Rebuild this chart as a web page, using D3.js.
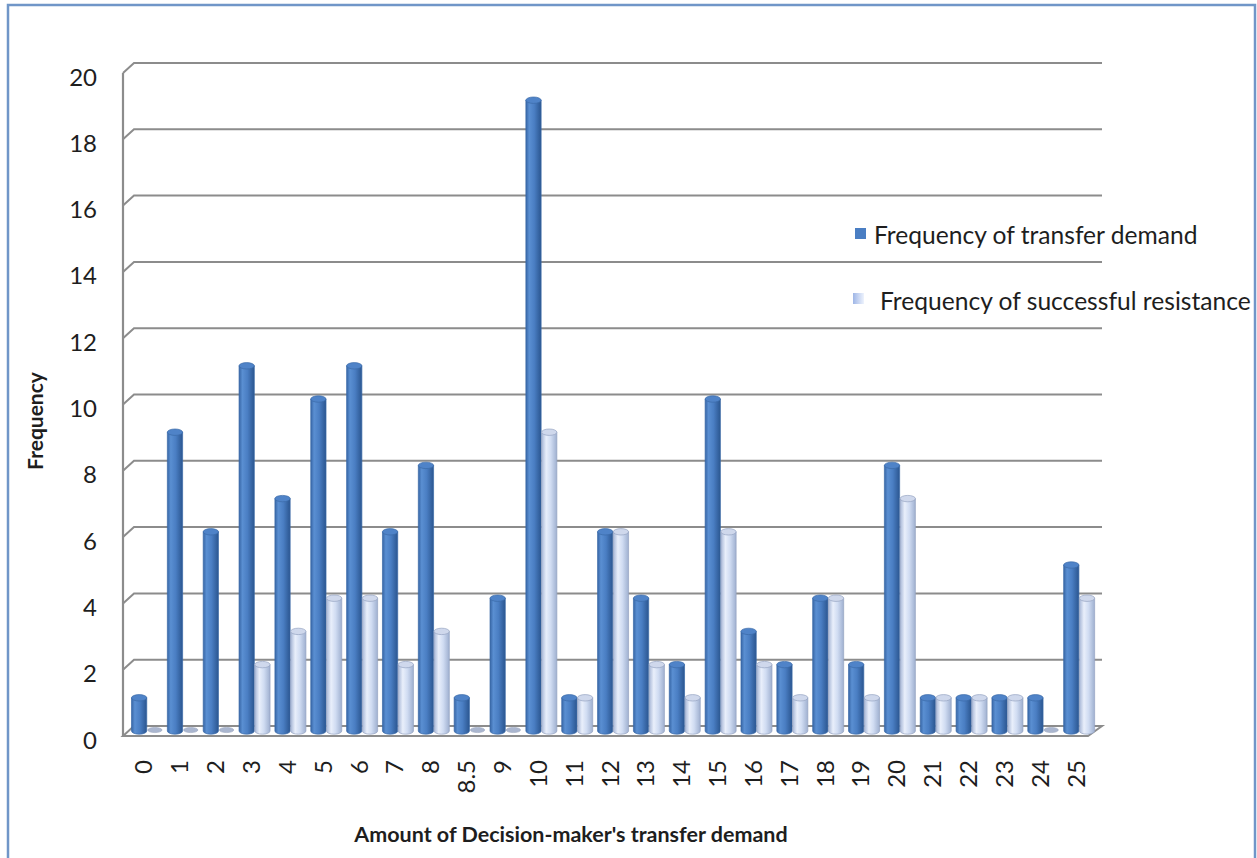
<!DOCTYPE html>
<html><head><meta charset="utf-8">
<script src="https://cdn.jsdelivr.net/npm/d3@7"></script>
<style>body{margin:0;background:#fff;}svg{display:block;}text{font-family:Lato,"Liberation Sans",sans-serif;fill:#1e1e1e;}</style>
</head><body>
<svg id="c" width="1257" height="858"></svg>
<script>
const categories = ["0","1","2","3","4","5","6","7","8","8.5","9","10","11","12","13","14","15","16","17","18","19","20","21","22","23","24","25"];
const demandValues = [1,9,6,11,7,10,11,6,8,1,4,19,1,6,4,2,10,3,2,4,2,8,1,1,1,1,5];
const resistValues = [0,0,0,2,3,4,4,2,3,0,0,9,1,6,2,1,6,2,1,4,1,7,1,1,1,0,4];
const seriesNames = ["Frequency of transfer demand","Frequency of successful resistance"];
const yTicks = [0,2,4,6,8,10,12,14,16,18,20];
const xTitle = "Amount of Decision-maker's transfer demand";
const yTitle = "Frequency";

const svg = d3.select("#c");
const defs = svg.append("defs");
function grad(id, stops){
  const g = defs.append("linearGradient").attr("id", id).attr("x1","0%").attr("x2","100%").attr("y1","0%").attr("y2","0%");
  stops.forEach(s => g.append("stop").attr("offset", s[0]).attr("stop-color", s[1]));
}
grad("gDark", [[0,"#3766a6"],[0.22,"#5a8fd2"],[0.55,"#4a7ec3"],[1,"#2b5690"]]);
grad("gLight", [[0,"#a6b6d6"],[0.3,"#e9effb"],[0.6,"#d0dcf2"],[1,"#9fb0d0"]]);
grad("gLegL", [[0,"#9fb6e6"],[1,"#eef3fd"]]);

// frame
svg.append("rect").attr("x",8).attr("y",5).attr("width",1247).attr("height",870)
  .attr("fill","#fff").attr("stroke","#7096c8").attr("stroke-width",2.5);

const DX = 11, DY = -10;
const yGrid = d3.scaleLinear().domain([0,20]).range([726,63]);
const yBar = d3.scaleLinear().domain([0,20]).range([731,67]);
const x = d3.scaleBand().domain(categories).range([127,1095]).paddingInner(0);
const xs = d3.scaleBand().domain(seriesNames).range([4.5,35.5]).paddingInner(0.03);

const gridCol = "#8c8c8c";
const gg = svg.append("g");
yTicks.filter(t => t > 0).forEach(t => {
  const yb = yGrid(t);
  gg.append("path").attr("d", `M123,${yb-DY}L${123+DX},${yb}L1102,${yb}`)
    .attr("fill","none").attr("stroke",gridCol).attr("stroke-width",2);
});
gg.append("line").attr("x1",123).attr("x2",123).attr("y1",yGrid(20)-DY).attr("y2",yGrid(0)-DY)
  .attr("stroke",gridCol).attr("stroke-width",2.2);
const yb0 = yGrid(0);
gg.append("path").attr("d", `M123,${yb0-DY}L${123+DX},${yb0}L1102,${yb0}L${1102-DX-3},${yb0-DY}Z`)
  .attr("fill","none").attr("stroke",gridCol).attr("stroke-width",2);

svg.append("g").selectAll("text").data(yTicks).join("text")
  .attr("x",97).attr("y",d => yGrid(d)+13).attr("text-anchor","end").attr("dominant-baseline","central")
  .attr("font-size",24).text(d => d);

const data = [];
categories.forEach((c,i) => {
  data.push({c, s: seriesNames[0], v: demandValues[i], k: "dark"});
  data.push({c, s: seriesNames[1], v: resistValues[i], k: "light"});
});
const bars = svg.append("g");
data.forEach(d => {
  const x0 = x(d.c) + xs(d.s), w = xs.bandwidth(), cx = x0 + w/2;
  const yTop = yBar(d.v), yBot = yBar(0);
  const ry = 3.2;
  const g = bars.append("g");
  if (d.v <= 0) {
    g.append("ellipse").attr("cx",cx).attr("cy",yBot-1).attr("rx",w/2-0.5).attr("ry",2.6)
      .attr("fill", d.k==="dark" ? "#6d8fc0" : "#aab6cf").attr("stroke","#9aa6bf").attr("stroke-width",0.6);
    return;
  }
  const fill = d.k==="dark" ? "url(#gDark)" : "url(#gLight)";
  const stroke = d.k==="dark" ? "#3b6aa7" : "#95a4c2";
  g.append("path")
    .attr("d", `M${x0},${yTop}L${x0},${yBot}A${w/2},${ry} 0 0 0 ${x0+w},${yBot}L${x0+w},${yTop}Z`)
    .attr("fill",fill).attr("stroke",stroke).attr("stroke-width",0.7);
  g.append("ellipse").attr("cx",cx).attr("cy",yTop).attr("rx",w/2).attr("ry",ry)
    .attr("fill", d.k==="dark" ? "#4f83c8" : "#cfd8ec").attr("stroke",stroke).attr("stroke-width",0.7);
});

svg.append("g").selectAll("text").data(categories).join("text")
  .attr("transform", d => `translate(${x(d)+x.bandwidth()/2-2},760) rotate(-90)`)
  .attr("text-anchor","end").attr("dominant-baseline","central").attr("font-size",24).text(d => d);

svg.append("text").attr("x",571).attr("y",834).attr("text-anchor","middle").attr("dominant-baseline","central")
  .attr("font-size",21.5).attr("font-weight","bold").text(xTitle);
svg.append("text").attr("transform","translate(34,421) rotate(-90)").attr("text-anchor","middle")
  .attr("dominant-baseline","central").attr("font-size",21).attr("font-weight","bold").text(yTitle);

const leg = svg.append("g");
leg.append("rect").attr("x",855).attr("y",228).attr("width",11).attr("height",11).attr("fill","#4a7ec3");
leg.append("text").attr("x",874).attr("y",234).attr("dominant-baseline","central").attr("font-size",24.6).text(seriesNames[0]);
leg.append("rect").attr("x",853).attr("y",293).attr("width",11).attr("height",11).attr("fill","url(#gLegL)");
leg.append("text").attr("x",880).attr("y",300).attr("dominant-baseline","central").attr("font-size",24.6).text(seriesNames[1]);
</script>
</body></html>
